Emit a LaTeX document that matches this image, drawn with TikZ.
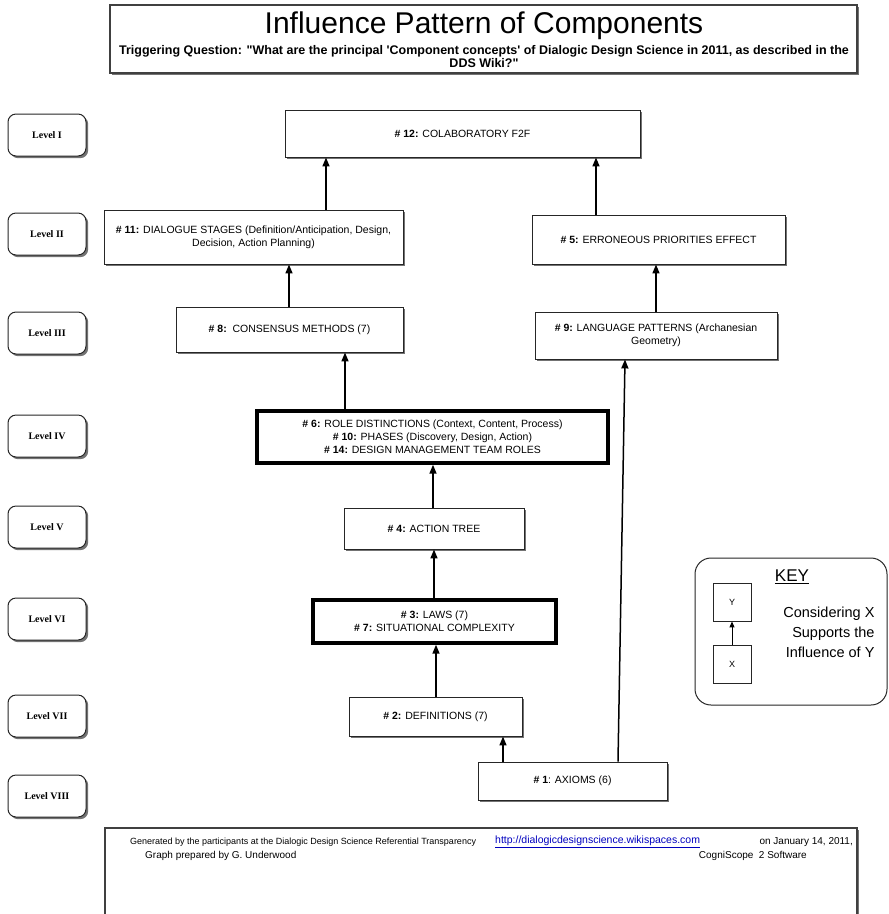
\documentclass[tikz,border=0pt]{standalone}
\usepackage{fontspec}
\setmainfont{Liberation Sans}
\newfontfamily\lvlserif{Liberation Serif}
\usetikzlibrary{arrows.meta,shadows}
\tikzset{
  boxshadow/.style={drop shadow={shadow xshift=2.2pt,shadow yshift=-2.2pt,fill=black!55,opacity=1}},
  compbox/.style={draw=black!85,line width=0.9pt,fill=white,boxshadow,align=center,inner sep=0pt,
    font=\fontsize{10.5}{13}\selectfont},
  heavybox/.style={compbox,draw=black,line width=3.4pt},
  levelbox/.style={draw=black!85,line width=1pt,fill=white,rounded corners=8pt,boxshadow,
    minimum width=78pt,minimum height=42pt,inner sep=0pt,font=\lvlserif\bfseries\fontsize{10}{12}\selectfont},
  flow/.style={line width=1.5pt,-{Triangle[length=9pt,width=7pt]}},
  framebox/.style={draw=black!75,line width=1.2pt,fill=white,boxshadow,inner sep=0pt},
  keysq/.style={draw=black!85,line width=0.9pt,fill=white,minimum size=38pt,inner sep=0pt,
    font=\fontsize{9}{10}\selectfont},
  foottext/.style={font=\fontsize{10}{12}\selectfont,inner sep=0pt},
}
\begin{document}
\begin{tikzpicture}[x=1pt,y=-1pt]
\useasboundingbox (0,0) rectangle (889,914);

% header
\node[framebox,minimum width=747pt,minimum height=68pt] (titlebox) at (483.5,39) {};
\node[font=\fontsize{30}{36}\selectfont] (title) at (484,26) {Influence Pattern of Components};
\node[font=\bfseries\fontsize{12.5}{12.5}\selectfont,align=center] (question) at (484,56.5)
  {Triggering Question: \textquotedbl What are the principal \textquotesingle Component concepts\textquotesingle\ of Dialogic Design Science in 2011, as described in the\\DDS Wiki?\textquotedbl};

% level markers
\node[levelbox] (L1) at (47,135) {Level I};
\node[levelbox] (L2) at (47,234) {Level II};
\node[levelbox] (L3) at (47,333) {Level III};
\node[levelbox] (L4) at (47,436) {Level IV};
\node[levelbox] (L5) at (47,527) {Level V};
\node[levelbox] (L6) at (47,619) {Level VI};
\node[levelbox] (L7) at (47,716) {Level VII};
\node[levelbox] (L8) at (47,796) {Level VIII};

% component boxes
\node[compbox,minimum width=355pt,minimum height=47pt] (n12) at (462.5,133.5) {\textbf{\# 12:} COLABORATORY F2F};
\node[compbox,minimum width=299pt,minimum height=54pt] (n11) at (253.5,237)
  {\textbf{\# 11:} DIALOGUE STAGES (Definition/Anticipation, Design,\\Decision, Action Planning)};
\node[compbox,minimum width=253pt,minimum height=49pt] (n5) at (658.5,239.5) {\textbf{\# 5:} ERRONEOUS PRIORITIES EFFECT};
\node[compbox,minimum width=227pt,minimum height=45pt] (n8) at (289.5,329.5) {\textbf{\# 8:}\ \ CONSENSUS METHODS (7)};
\node[compbox,minimum width=242pt,minimum height=47pt] (n9) at (656,335.5)
  {\textbf{\# 9:} LANGUAGE PATTERNS (Archanesian\\Geometry)};
\node[heavybox,minimum width=351pt,minimum height=52pt] (n6) at (432.5,437)
  {\textbf{\# 6:} ROLE DISTINCTIONS (Context, Content, Process)\\
   \textbf{\# 10:} PHASES (Discovery, Design, Action)\\
   \textbf{\# 14:} DESIGN MANAGEMENT TEAM ROLES};
\node[compbox,minimum width=180pt,minimum height=41pt] (n4) at (434,528.5) {\textbf{\# 4:} ACTION TREE};
\node[heavybox,minimum width=243pt,minimum height=43pt] (n3) at (434.5,621.5)
  {\textbf{\# 3:} LAWS (7)\\\textbf{\# 7:} SITUATIONAL COMPLEXITY};
\node[compbox,minimum width=173pt,minimum height=39pt] (n2) at (435.5,716.5) {\textbf{\# 2:} DEFINITIONS (7)};
\node[compbox,minimum width=189pt,minimum height=38pt] (n1) at (572.5,781) {\textbf{\# 1}: AXIOMS (6)};

% connector columns
\coordinate (cA) at (326,0);
\coordinate (cB) at (596,0);
\coordinate (cC) at (289,0);
\coordinate (cD) at (656,0);
\coordinate (cE) at (345,0);
\coordinate (cF) at (433,0);
\coordinate (cG) at (434,0);
\coordinate (cH) at (436,0);
\coordinate (cI) at (503,0);
\coordinate (cJ) at (618,0);
\coordinate (cK) at (625,0);

\draw[flow] (n11.north -| cA) -- (n12.south -| cA);
\draw[flow] (n5.north -| cB) -- (n12.south -| cB);
\draw[flow] (n8.north -| cC) -- (n11.south -| cC);
\draw[flow] (n9.north -| cD) -- (n5.south -| cD);
\draw[flow] (n6.north -| cE) -- (n8.south -| cE);
\draw[flow] (n4.north -| cF) -- (n6.south -| cF);
\draw[flow] (n3.north -| cG) -- (n4.south -| cG);
\draw[flow] (n2.north -| cH) -- (n3.south -| cH);
\draw[flow] (n1.north -| cI) -- (n2.south -| cI);
\draw[flow] (n1.north -| cJ) -- (n9.south -| cK);

% key
\node[draw=black!85,line width=1pt,rounded corners=16pt,fill=white,minimum width=192pt,minimum height=147pt] (keybox) at (791,631.5) {};
\node[font=\fontsize{17}{20}\selectfont] (keytitle) at (792,577) {\underline{KEY}};
\node[keysq] (ky) at (732,602) {Y};
\node[keysq] (kx) at (732,664) {X};
\draw[line width=1pt,-{Triangle[length=6pt,width=5pt]}] (kx) -- (ky);
\node[align=right,anchor=east,font=\fontsize{14.5}{20}\selectfont] (keytext) at (878,632)
  {Considering X\\Supports the\\Influence of Y};

% footer
\node[framebox,minimum width=752pt,minimum height=110pt] (footbox) at (481,883) {};
\node[anchor=west,foottext,font=\fontsize{9}{11}\selectfont] (gen) at (130,842)
  {Generated by the participants at the Dialogic Design Science Referential Transparency};
\node[anchor=west,foottext,font=\fontsize{10.5}{12}\selectfont,text=blue!75!black] (url) at (495,842)
  {\underline{http://dialogicdesignscience.wikispaces.com}};
\node[anchor=east,foottext] (date) at (853,842) {on January 14, 2011,};
\node[anchor=west,foottext] (prep) at (145,856) {Graph prepared by G. Underwood};
\node[anchor=east,foottext] (soft) at (807,856) {CogniScope\ \ 2 Software};
\end{tikzpicture}
\end{document}
